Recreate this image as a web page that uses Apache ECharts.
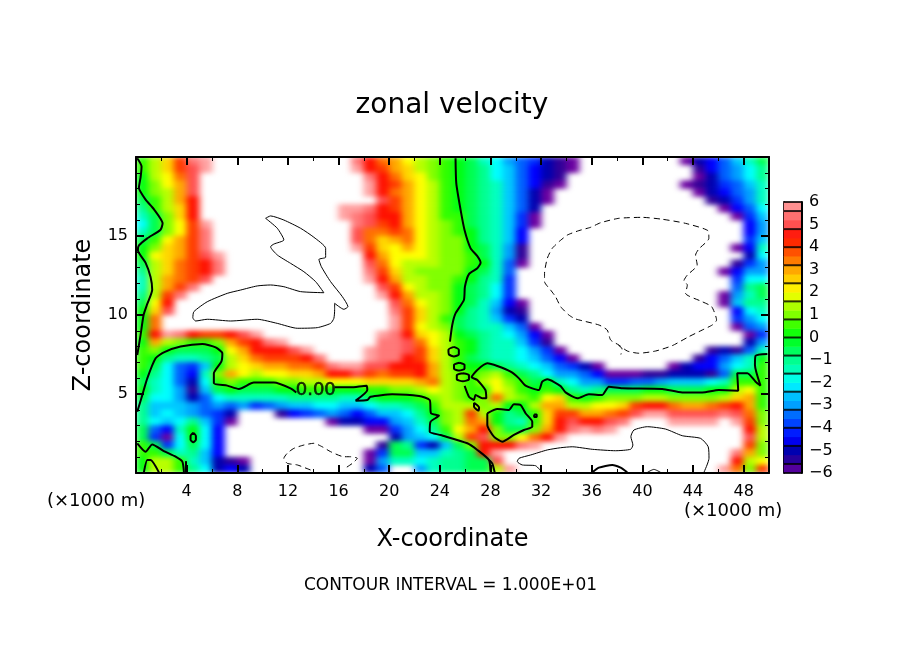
<!DOCTYPE html>
<html lang="en">
<head>
    <meta charset="UTF-8">
    <title>zonal velocity</title>
    <script src="https://cdn.jsdelivr.net/npm/echarts@6/dist/echarts.min.js"></script>
    <style>
        body { margin: 0; background: #fff; }
        #main { width: 904px; height: 654px; }
        /* the field sits on its own canvas layer, shaded like the original and cut at the plot frame */
        canvas[data-zr-dom-id="zr_-1"] {
            filter: url(#shade);
            clip-path: inset(157px 135px 181px 136px);
        }
    </style>
</head>
<body>
<svg width="0" height="0" style="position:absolute">
    <filter id="shade" color-interpolation-filters="sRGB" x="0" y="0" width="100%" height="100%">
        <feGaussianBlur stdDeviation="3.6 2.4"/>
    </filter>
</svg>
<div id="main"></div>
<script>
    var n = null; // outside the colour range, left white

    // cell centres: x 0.5 .. 49.5 (x1000 m)
    var xCells = [0.5,1.5,2.5,3.5,4.5,5.5,6.5,7.5,8.5,9.5,10.5,11.5,12.5,13.5,14.5,15.5,16.5,17.5,18.5,19.5,20.5,21.5,22.5,23.5,24.5,25.5,26.5,27.5,28.5,29.5,30.5,31.5,32.5,33.5,34.5,35.5,36.5,37.5,38.5,39.5,40.5,41.5,42.5,43.5,44.5,45.5,46.5,47.5,48.5,49.5];
    // z 19.75 at the top row down to 0.25
    var zCells = [19.75,19.25,18.75,18.25,17.75,17.25,16.75,16.25,15.75,15.25,14.75,14.25,13.75,13.25,12.75,12.25,11.75,11.25,10.75,10.25,9.75,9.25,8.75,8.25,7.75,7.25,6.75,6.25,5.75,5.25,4.75,4.25,3.75,3.25,2.75,2.25,1.75,1.25,0.75,0.25];

    // velocity, in half colour bar units, one row per z
    var velocityRows = [
        [1,3,5,8,11,12,n,n,n,n,n,n,n,n,n,n,n,11,9,7,6,4,3,2,1,0,-1,-3,-4,-6,-7,-8,-10,-11,-12,n,n,n,n,n,n,n,n,-12,-10,-9,-7,-5,-3,-1],
        [1,3,5,8,10,12,n,n,n,n,n,n,n,n,n,n,n,12,9,8,6,5,3,2,1,0,-1,-2,-4,-5,-7,-9,-10,-11,-12,n,n,n,n,n,n,n,n,n,-11,-9,-7,-6,-4,-2],
        [0,3,4,7,10,n,n,n,n,n,n,n,n,n,n,n,n,n,11,9,7,5,4,2,1,0,-1,-2,-4,-5,-7,-9,-10,-11,n,n,n,n,n,n,n,n,n,n,-12,-10,-7,-6,-4,-2],
        [0,2,4,6,10,n,n,n,n,n,n,n,n,n,n,n,n,n,12,9,8,6,4,3,1,0,-1,-2,-3,-5,-7,-9,-11,-12,n,n,n,n,n,n,n,n,n,-12,-11,-10,-8,-7,-5,-3],
        [0,2,3,6,10,n,n,n,n,n,n,n,n,n,n,n,n,n,12,9,7,6,4,3,1,0,-1,-2,-3,-5,-7,-10,-12,n,n,n,n,n,n,n,n,n,n,n,-12,-10,-9,-7,-6,-3],
        [-1,1,3,6,9,n,n,n,n,n,n,n,n,n,n,n,n,n,n,10,8,6,4,3,1,0,-1,-2,-3,-5,-7,-10,-12,n,n,n,n,n,n,n,n,n,n,n,n,-11,-10,-8,-6,-3],
        [-2,1,3,5,9,n,n,n,n,n,n,n,n,n,n,n,12,12,11,9,8,6,4,3,1,0,-1,-2,-3,-5,-7,-10,n,n,n,n,n,n,n,n,n,n,n,n,n,n,-12,-9,-7,-4],
        [-3,-1,2,5,9,n,n,n,n,n,n,n,n,n,n,n,12,11,10,9,9,6,4,3,1,1,-1,-2,-3,-5,-8,-12,n,n,n,n,n,n,n,n,n,n,n,n,n,n,n,-12,-8,-5],
        [-4,-1,2,4,8,12,n,n,n,n,n,n,n,n,n,n,n,11,10,8,9,6,4,3,2,1,-1,-2,-3,-5,-8,-12,n,n,n,n,n,n,n,n,n,n,n,n,n,n,n,n,-9,-6],
        [-3,-1,2,4,8,11,n,n,n,n,n,n,n,n,n,n,n,10,7,7,8,7,4,3,2,1,0,-2,-3,-5,-9,n,n,n,n,n,n,n,n,n,n,n,n,n,n,n,n,n,-9,-6],
        [-1,1,4,6,8,11,n,n,n,n,n,n,n,n,n,n,n,10,7,5,6,7,4,3,2,2,0,-2,-3,-5,-9,n,n,n,n,n,n,n,n,n,n,n,n,n,n,n,n,n,-8,-5],
        [0,2,5,6,8,11,n,n,n,n,n,n,n,n,n,n,n,12,8,5,4,6,4,3,2,2,0,-1,-3,-6,-11,n,n,n,n,n,n,n,n,n,n,n,n,n,n,n,n,-12,-9,-3],
        [0,4,5,6,8,10,12,n,n,n,n,n,n,n,n,n,n,n,9,6,4,4,4,3,2,2,1,-1,-3,-6,-11,n,n,n,n,n,n,n,n,n,n,n,n,n,n,n,n,n,-10,-4],
        [-1,3,5,7,8,9,11,n,n,n,n,n,n,n,n,n,n,n,10,7,4,3,3,3,2,2,1,0,-3,-7,-12,n,n,n,n,n,n,n,n,n,n,n,n,n,n,n,n,-11,-8,-6],
        [-2,3,5,7,8,9,11,n,n,n,n,n,n,n,n,n,n,n,11,8,5,3,2,2,2,2,0,-1,-3,-7,n,n,n,n,n,n,n,n,n,n,n,n,n,n,n,n,-12,-9,-6,-6],
        [-3,3,6,7,8,10,n,n,n,n,n,n,n,n,n,n,n,n,12,9,6,3,3,2,2,1,0,-2,-3,-8,n,n,n,n,n,n,n,n,n,n,n,n,n,n,n,n,n,-8,-4,-4],
        [-3,3,6,8,11,n,n,n,n,n,n,n,n,n,n,n,n,n,n,10,8,4,3,2,2,0,-1,-2,-4,-8,n,n,n,n,n,n,n,n,n,n,n,n,n,n,n,n,n,-7,-2,-1],
        [-2,3,8,11,n,n,n,n,n,n,n,n,n,n,n,n,n,n,n,12,9,6,3,3,2,0,-1,-2,-4,-8,n,n,n,n,n,n,n,n,n,n,n,n,n,n,n,n,-12,-6,-3,-1],
        [-1,4,9,n,n,n,n,n,n,n,n,n,n,n,n,n,n,n,n,n,10,7,4,3,2,0,-1,-3,-5,-9,-12,n,n,n,n,n,n,n,n,n,n,n,n,n,n,n,-12,-5,-2,-2],
        [0,5,10,n,n,n,n,n,n,n,n,n,n,n,n,n,n,n,n,n,11,8,5,3,2,0,-2,-3,-6,-10,-11,n,n,n,n,n,n,n,n,n,n,n,n,n,n,n,n,-9,-4,-3],
        [0,7,n,n,n,n,n,n,n,n,n,n,n,n,n,n,n,n,n,n,12,8,5,3,1,-1,-2,-3,-5,-8,-10,n,n,n,n,n,n,n,n,n,n,n,n,n,n,n,n,-8,-6,-4],
        [0,7,n,n,n,n,n,n,n,n,n,n,n,n,n,n,n,n,n,n,12,8,4,3,2,-1,-2,-3,-3,-5,-7,-12,n,n,n,n,n,n,n,n,n,n,n,n,n,n,n,-12,-7,-6],
        [1,9,12,11,9,8,8,9,10,12,n,n,n,n,n,n,n,n,n,12,11,9,5,4,3,0,-1,-2,-3,-4,-6,-9,-12,n,n,n,n,n,n,n,n,n,n,n,n,n,n,n,-12,-8],
        [0,6,3,2,1,1,2,6,8,9,11,12,n,n,n,n,n,n,n,11,11,10,7,4,3,1,0,-2,-3,-3,-5,-8,-11,n,n,n,n,n,n,n,n,n,n,n,n,n,n,n,-10,-6],
        [1,2,0,-1,-1,-1,0,4,6,9,9,9,10,12,n,n,n,n,12,11,11,10,8,5,3,1,0,-2,-3,-3,-4,-6,-8,-12,n,n,n,n,n,n,n,n,n,n,n,-11,-10,-11,-7,-3],
        [1,0,-2,-3,-3,-2,-1,3,5,7,8,8,8,9,11,n,n,n,12,11,11,9,8,5,3,1,-1,-2,-3,-3,-4,-5,-7,-9,-12,n,n,n,n,n,n,n,n,n,-11,-9,-7,-5,-3,0],
        [1,-1,-4,-7,-8,-5,0,3,4,5,6,6,7,7,8,11,12,12,10,10,9,9,9,6,3,1,0,0,-1,-2,-3,-4,-5,-7,-8,-10,-12,n,n,n,n,n,-12,-10,-9,-9,-6,-4,-3,1],
        [0,-2,-4,-7,-9,-3,2,6,4,3,4,4,5,5,6,9,9,10,8,7,8,8,9,6,3,2,1,2,3,1,-1,-2,-4,-6,-6,-7,-9,-12,-12,-12,-11,-11,-10,-10,-10,-11,-7,-1,-1,1],
        [-1,-3,-4,-7,-10,-4,1,2,1,1,1,2,2,3,3,4,4,4,5,5,5,5,6,7,3,2,1,3,4,2,1,-1,0,-3,-4,-6,-6,-8,-8,-7,-7,-6,-5,-5,-5,-4,-3,1,1,1],
        [0,-3,-4,-6,-11,-5,-1,0,-1,-1,-1,0,0,1,1,0,0,0,1,1,2,2,3,4,3,2,1,1,4,3,1,0,1,0,-2,-3,-2,-1,-1,-1,0,0,-1,-1,-1,0,0,3,4,1],
        [-1,-4,-4,-6,-10,-7,-4,-3,-3,-3,-3,-3,-2,-2,-2,-2,-3,-3,-1,0,0,0,1,2,3,2,1,2,7,3,2,1,4,5,1,0,1,2,2,2,3,3,2,2,2,2,3,5,6,1],
        [-2,-5,-5,-5,-6,-7,-6,-7,-6,-8,-7,-6,-5,-5,-4,-4,-5,-5,-4,-3,-3,-2,-1,1,3,3,3,2,3,0,0,3,6,6,3,3,4,4,5,8,9,9,7,6,6,7,8,9,6,1],
        [-2,-5,-4,-5,-6,-7,-8,-10,n,n,n,-11,-9,-8,-7,-6,-7,-9,-7,-5,-5,-4,-2,0,2,3,8,3,0,-2,-1,1,5,8,8,6,6,7,8,10,12,12,10,10,10,10,11,10,7,2],
        [-2,-4,-5,-4,-2,-5,-8,-12,n,n,n,n,n,n,n,-12,-10,-10,-9,-9,-6,-5,-3,-1,2,3,7,6,0,-2,-3,1,5,9,10,9,9,10,11,n,n,n,12,12,12,12,n,12,8,2],
        [-1,-7,-9,-3,0,-4,-9,n,n,n,n,n,n,n,n,n,n,n,-12,-12,-8,-6,-4,-2,1,4,6,9,2,-1,-1,2,6,9,11,12,11,12,n,n,n,n,n,n,n,n,n,n,9,3],
        [-1,-8,-12,-4,0,-4,-9,n,n,n,n,n,n,n,n,n,n,n,n,n,-10,-6,-5,-4,-1,3,8,10,2,2,4,7,9,12,n,n,n,n,n,n,n,n,n,n,n,n,n,n,10,3],
        [1,-1,-8,-4,-1,-4,-9,n,n,n,n,n,n,n,n,n,n,n,n,-11,-1,-2,-8,-10,-5,-1,2,9,9,9,11,12,n,n,n,n,n,n,n,n,n,n,n,n,n,n,n,n,8,2],
        [1,1,-1,-3,-2,-5,-9,n,n,n,n,n,n,n,n,n,n,n,-12,-8,-1,-1,-5,-5,-3,-2,-1,9,12,n,n,n,n,n,n,n,n,n,n,n,n,n,n,n,n,n,n,11,6,2],
        [0,3,3,1,-3,-5,-10,-11,-12,n,n,n,n,n,n,n,n,n,-12,-6,-3,-3,-4,-3,-2,-2,-1,-1,10,n,n,n,n,n,n,n,n,n,n,n,n,n,n,n,n,n,n,9,3,4],
        [0,3,3,1,-2,-4,-10,-9,-10,n,n,n,n,n,n,n,n,n,-10,-7,n,n,-6,-3,-2,-2,-1,-1,3,12,n,n,n,n,n,n,n,n,n,n,n,n,n,n,n,n,12,7,2,8]
    ];

    // zero contours, [x, z]
    var zeroLeftTop = [[0.1,19.92],[0.44,19.4],[0.36,18.7],[0.23,18.05],[0.76,17.3],[1.41,16.7],[2.1,15.8],[1.94,15.4],[0.89,14.85],[0.23,14.4],[0.15,14.1],[0.76,13.3],[1.15,12.4],[1.28,11.6],[0.89,10.7],[0.6,10],[0.36,8.73],[0.1,7.47]];
    var zeroMainLeft = [[0.1,3.88],[0.5,4.94],[0.89,5.99],[1.55,7.26],[2.2,7.64],[3.52,8],[5.24,8.16],[6.29,7.95],[6.82,7.57],[6.74,7.05],[6.15,6.31],[6.15,5.68],[7.21,5.53],[8.13,5.32],[9.31,5.72],[10.89,5.72],[12.21,5.36],[12.66,5.1]];
    var zeroMainRight = [[15.69,5.42],[16.95,5.42],[18.2,5.53],[18.27,5.25],[17.35,4.58],[18.27,4.62],[18.53,4.83],[20.24,4.98],[22.35,4.87],[23.2,4.62],[23.3,3.78],[23.93,3.63],[23.27,3.25],[23.2,2.61],[24.06,2.4],[26.17,1.88],[26.96,1.46],[27.88,0.82],[28,0.08]];
    var zeroDiagonalEnd = [[27.88,0.82],[28.14,0.61],[28.33,0.05]];
    var zeroCentre = [[25.24,19.92],[25.3,18.33],[25.64,16.65],[25.95,15.38],[26.43,14.22],[26.96,13.73],[27.22,13.31],[26.96,12.96],[26.3,12.59],[25.98,11.79],[25.9,10.95],[25.24,10.1],[24.98,9.37],[24.8,8.31]];
    var zeroLoopA = [[25.11,7.98],[25.5,7.8],[25.5,7.5],[25.11,7.38],[24.72,7.5],[24.68,7.8],[25.11,7.98]];
    var zeroLoopB = [[25.54,6.98],[25.95,6.85],[25.95,6.6],[25.54,6.48],[25.12,6.6],[25.12,6.85],[25.54,6.98]];
    var zeroLoopC = [[25.82,6.31],[26.3,6.2],[26.3,5.92],[25.82,5.81],[25.34,5.92],[25.34,6.2],[25.82,6.31]];
    var zeroRight = [[25.96,5.51],[26.3,4.83],[26.69,4.62],[26.82,4.94],[27.35,4.73],[27.67,4.73],[27.6,5.25],[26.96,5.89],[26.51,6.06],[26.96,6.52],[27.75,6.94],[28.54,6.77],[29.59,6.41],[30.25,5.99],[30.77,5.53],[31.82,5.25],[32.09,5.78],[32.49,5.93],[33.54,5.5],[33.93,5.1],[34.86,4.73],[35.77,4.98],[36.83,4.94],[37.35,5.46],[38.41,5.36],[41.57,5.32],[43.15,5.1],[44.73,5.1],[46.04,5.25],[47.57,5.21],[47.49,6.31],[48.29,6.31],[48.94,5.78],[49.33,5.53],[48.89,6.84],[48.94,7.42],[49.87,7.53]];
    var zeroIsland = [[27.75,3.78],[28.54,4.05],[29.46,3.99],[29.85,4.35],[30.38,4.3],[30.77,3.78],[31.3,3.25],[31.3,2.93],[30.64,2.72],[29.85,2.41],[28.93,1.98],[28.27,2.3],[27.75,3.04],[27.75,3.78]];
    var zeroSpeck = [[26.7,4.45],[27.1,4.15],[27.05,3.95],[26.7,4.2],[26.7,4.45]];
    var zeroDot = [[31.45,3.7],[31.65,3.7],[31.65,3.55],[31.45,3.55],[31.45,3.7]];
    var zeroLeftBottom = [[0.1,1.88],[0.76,1.35],[1.28,1.81],[2.2,1.39],[3.13,1.03],[3.66,0.72],[3.79,0.04]];
    var zeroBumpA = [[0.62,0.04],[0.89,0.82],[1.15,0.82],[1.81,0.04]];
    var zeroBumpB = [[3.95,0.75],[3.95,0.04]];
    var zeroLabelLoop = [[4.52,2.54],[4.73,2.35],[4.73,2.1],[4.52,1.94],[4.31,2.1],[4.31,2.35],[4.52,2.54]];
    var zeroArc = [[36.04,0.04],[36.56,0.34],[37.62,0.51],[38.28,0.34],[38.8,0.04]];
    var zeroBumpC = [[40.39,0.04],[40.91,0.23],[41.44,0.04]];

    // +10 contours
    var plusUpper = [[10.24,16.12],[10.63,16.27],[11.68,16.01],[13,15.49],[14.05,14.92],[14.98,14.22],[14.98,13.65],[14.45,13.52],[14.64,13.06],[15.37,12.11],[16.3,11.16],[16.74,10.53],[16.42,10.36],[15.69,10.74],[15.69,10.32],[15.63,9.79],[15.37,9.47],[14.32,9.2],[12.74,9.16],[11.16,9.47],[9.58,9.73],[7.47,9.62],[5.63,9.73],[4.71,9.62],[4.49,9.83],[4.57,10.21],[5.63,10.84],[7.21,11.37],[8.26,11.58],[9.58,11.84],[10.63,11.9],[11.68,11.79],[13,11.48],[14.84,11.41],[14.19,12.11],[13.26,12.74],[12.21,13.27],[11.16,13.8],[10.63,14.32],[10.89,14.49],[11.68,14.75],[11.16,15.49],[10.24,16.12]];
    var plusLower = [[32.09,0.02],[31.56,0.46],[30.51,0.51],[30.12,0.72],[30.25,0.93],[31.17,1.14],[32.49,1.46],[33.54,1.6],[34.46,1.66],[36.04,1.5],[37.88,1.41],[39.07,1.5],[39.25,1.77],[39.09,2.3],[39.33,2.72],[40.39,2.93],[41.83,2.78],[43.15,2.36],[44.6,2.19],[45.2,1.66],[45.26,0.93],[44.86,0.04]];

    // -10 contours
    var minusUpper = [[33.41,14.64],[34.07,15.06],[34.98,15.34],[35.91,15.55],[36.7,15.84],[38.14,16.12],[39.99,16.18],[41.57,16.06],[43.41,15.8],[45.2,15.32],[45.25,14.85],[44.46,14.18],[44.2,13.8],[44.33,13.16],[43.55,12.53],[43.28,12.17],[43.55,11.9],[43.41,11.37],[44.73,10.84],[45.47,10.53],[45.86,9.68],[45.52,9.37],[44.73,9.05],[43.67,8.63],[42.36,8.06],[41.04,7.72],[39.72,7.58],[38.81,7.72],[38.14,8.1],[37.49,8.42],[37.22,9.05],[36.56,9.37],[34.72,9.75],[34.19,10],[33.54,10.53],[33.14,11.16],[32.75,11.58],[32.27,12.11],[32.27,12.64],[32.49,13.59],[32.88,14.22],[33.41,14.64]];
    var minusHook = [[38.1,8.1],[38.4,7.85],[38.3,7.5]];
    var minusLower = [[13.79,0.19],[12.74,0.51],[11.95,0.61],[11.68,0.93],[11.95,1.25],[12.47,1.56],[13.26,1.77],[14.05,1.88],[14.71,1.66],[15.37,1.35],[16.42,1.03],[16.95,1.03],[17.48,0.93],[17.09,0.61],[16.42,0.25]];

    var thickContours = [zeroLeftTop, zeroMainLeft, zeroMainRight, zeroDiagonalEnd, zeroCentre, zeroLoopA, zeroLoopB, zeroLoopC, zeroRight, zeroIsland, zeroSpeck, zeroDot, zeroLeftBottom, zeroBumpA, zeroBumpB, zeroLabelLoop, zeroArc];
    var thinContours = [plusUpper, plusLower, zeroBumpC];
    var dashedContours = [minusUpper, minusHook, minusLower];

    var contourLabel = [[14.2, 5.25]];

    // colour bar
    var barLevels = [-5.8,-5.4,-5,-4.6,-4.2,-3.8,-3.4,-3,-2.6,-2.2,-1.8,-1.4,-1,-0.6,-0.2,0.2,0.6,1,1.4,1.8,2.2,2.6,3,3.4,3.8,4.2,4.6,5,5.4,5.8];
    var barSeparators = [-6,-5.6,-4.8,-4,-3.2,-2.4,-1.6,-0.8,0,0.8,1.6,2.4,3.2,4,4.8,5.6,6];

    // -6 to 6 in half unit steps
    var palette = ['#6a00a0','#300098','#0000b0','#0000ff','#0030ff','#0060ff','#00a0ff','#00c8ff','#00ffff','#00ffc0','#00ff90','#00ff50','#00ff10','#30ff00','#80ff00','#b8ff00','#ffff00','#ffd800','#ffa800','#ff7000','#ff3c00','#ff1000','#ff5050','#ff7878','#ffa0a0'];

    var FONT = 'DejaVu Sans';

    var heatData = [];
    for (var r = 0; r < velocityRows.length; r++) {
        for (var c = 0; c < velocityRows[r].length; c++) {
            if (velocityRows[r][c] !== null) {
                heatData.push([c, zCells.length - 1 - r, velocityRows[r][c] / 2]);
            }
        }
    }
    var barData = [];
    for (var i = 0; i < barLevels.length; i++) {
        barData.push([0, i, barLevels[i]]);
    }

    var series = [
        {
            type: 'heatmap', xAxisIndex: 0, yAxisIndex: 0, data: heatData, zlevel: -1,
            progressive: 0, itemStyle: { borderWidth: 0 }, emphasis: { disabled: true }
        },
        {
            type: 'heatmap', xAxisIndex: 5, yAxisIndex: 5, data: barData,
            progressive: 0, emphasis: { disabled: true }
        },
        {
            type: 'scatter', xAxisIndex: 5, yAxisIndex: 6, symbol: 'rect', symbolSize: [18, 2],
            itemStyle: { color: '#000' }, z: 12, silent: true,
            data: barSeparators.map(function (v) { return [0, v]; })
        },
        {
            type: 'scatter', xAxisIndex: 1, yAxisIndex: 1, symbolSize: 0, z: 12, silent: true,
            data: contourLabel,
            label: {
                show: true, position: 'inside', formatter: '0.00',
                fontFamily: FONT, fontSize: 18, color: '#000',
                textBorderColor: '#000', textBorderWidth: 0.6
            }
        }
    ];

    function addContours(list, width, type) {
        list.forEach(function (points) {
            series.push({
                type: 'line', xAxisIndex: 1, yAxisIndex: 1, data: points,
                showSymbol: false, smooth: 0.2, silent: true, z: 11,
                lineStyle: { color: '#000', width: width, type: type }
            });
        });
    }
    addContours(thickContours, 2, 'solid');
    addContours(thinContours, 1, 'solid');
    addContours(dashedContours, 1, [6, 4]);

    function valueAxis(position, min, max, interval, split, labels, name, gap) {
        var horizontal = position === 'bottom' || position === 'top';
        return {
            type: 'value', gridIndex: 0, position: position, min: min, max: max, interval: interval, z: 10,
            name: name, nameLocation: 'middle', nameGap: gap,
            nameTextStyle: { fontFamily: FONT, fontSize: 24, color: '#000' },
            splitLine: { show: false },
            axisLine: { show: true, onZero: false, lineStyle: { color: '#000', width: 2 } },
            axisTick: { show: true, inside: true, length: 8, lineStyle: { color: '#000', width: 2 } },
            minorTick: { show: true, splitNumber: split, length: 4, lineStyle: { color: '#000', width: 1 } },
            axisLabel: {
                show: labels, fontFamily: FONT, fontSize: 16, color: '#000', margin: horizontal ? 11 : 8,
                showMinLabel: false, showMaxLabel: false
            }
        };
    }

    var option = {
        animation: false,
        title: {
            text: 'zonal velocity', left: 447, top: 87, textAlign: 'center',
            textStyle: { fontFamily: FONT, fontSize: 28, fontWeight: 'normal', color: '#000' }
        },
        grid: [
            { left: 136, top: 157, width: 633, height: 316 },
            { left: 784, top: 202, width: 18, height: 271 }
        ],
        xAxis: [
            { type: 'category', gridIndex: 0, data: xCells, show: false },
            valueAxis('bottom', 0, 50, 4, 2, true, 'X-coordinate', 55),
            valueAxis('top', 0, 50, 4, 2, false),
            { type: 'category', gridIndex: 0, data: xCells, show: false },
            { type: 'category', gridIndex: 0, data: xCells, show: false },
            { type: 'category', gridIndex: 1, data: ['bar'], show: true, axisTick: { show: false }, axisLabel: { show: false }, axisLine: { lineStyle: { color: '#000', width: 2 } } }
        ],
        yAxis: [
            { type: 'category', gridIndex: 0, data: zCells.slice().reverse(), show: false },
            valueAxis('left', 0, 20, 5, 5, true, 'Z-coordinate', 40),
            valueAxis('right', 0, 20, 5, 5, false),
            { type: 'category', gridIndex: 0, data: zCells, show: false },
            { type: 'category', gridIndex: 0, data: zCells, show: false },
            {
                type: 'category', gridIndex: 1, data: barLevels, show: true,
                axisTick: { show: false }, axisLabel: { show: false },
                axisLine: { lineStyle: { color: '#000', width: 2 } }
            },
            {
                type: 'value', gridIndex: 1, position: 'right', min: -6, max: 6, interval: 1, z: 10,
                splitLine: { show: false }, axisTick: { show: false },
                axisLine: { show: true, onZero: false, lineStyle: { color: '#000', width: 2 } },
                axisLabel: {
                    fontFamily: FONT, fontSize: 16, color: '#000', margin: 7,
                    formatter: function (v) { return String(v).replace('-', '\u2212'); }
                }
            }
        ],
        visualMap: {
            show: false, type: 'continuous', seriesIndex: [0, 1], dimension: 2,
            min: -6, max: 6, inRange: { color: palette }
        },
        graphic: [
            { type: 'text', left: 47, top: 492, style: { text: '(\u00d71000 m)', fontFamily: FONT, fontSize: 18, fill: '#000' } },
            { type: 'text', left: 684, top: 502, style: { text: '(\u00d71000 m)', fontFamily: FONT, fontSize: 18, fill: '#000' } },
            { type: 'text', left: 304, top: 577, style: { text: 'CONTOUR INTERVAL = 1.000E+01', fontFamily: FONT, fontSize: 17, fill: '#000' } }
        ],
        series: series
    };

    var myChart = echarts.init(document.getElementById('main'));
    myChart.setOption(option);
</script>
</body>
</html>
